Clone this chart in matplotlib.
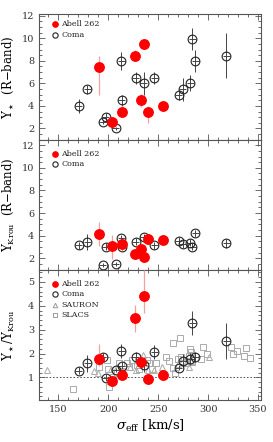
import matplotlib
matplotlib.use("Agg")
import matplotlib.pyplot as plt
from matplotlib.ticker import MultipleLocator

plt.rcParams['font.family'] = 'DejaVu Serif'
plt.rcParams['mathtext.fontset'] = 'dejavuserif'

# Abell 262 (red)
a262_sig = [190.5, 204, 213.4, 227, 235.4, 233, 239.7, 255]
a262_ups = [7.47, 2.59, 3.47, 8.45, 9.46, 4.49, 3.47, 3.98]
a262_ups_lo = [2.5, 0.3, 0.5, 0.5, 0.4, 0.6, 1.0, 0.3]
a262_ups_hi = [1.0, 0.3, 0.5, 0.5, 0.4, 0.6, 0.5, 0.3]
a262_krou = [4.12, 3.09, 3.24, 2.38, 2.14, 2.79, 3.70, 3.62]
a262_krou_lo = [1.0, 1.1, 0.5, 0.3, 0.2, 0.4, 0.3, 0.3]
a262_krou_hi = [1.1, 1.0, 0.5, 0.3, 0.2, 0.4, 0.3, 0.3]
a262_ratio = [1.79, 0.86, 1.10, 3.49, 4.40, 1.63, 0.94, 1.10]
a262_ratio_lo = [0.3, 0.2, 0.15, 0.6, 0.7, 0.2, 0.1, 0.1]
a262_ratio_hi = [0.6, 0.2, 0.15, 0.55, 1.1, 0.2, 0.1, 0.1]

# Coma (open circles)
coma_sig = [170.7, 179, 194.4, 197.7, 207.7, 213, 213.7, 227.4, 235.7, 246,
            270.7, 274.4, 282, 284, 287, 318]
coma_ups = [3.98, 5.46, 2.59, 2.98, 2.0, 7.98, 4.49, 6.47, 6.0, 6.47,
            4.96, 5.46, 6.0, 9.96, 7.98, 8.45]
coma_ups_err = [0.6, 0.4, 0.2, 0.4, 0.15, 0.8, 0.5, 0.5, 1.0, 0.5,
                0.4, 1.0, 0.7, 1.0, 1.0, 2.0]
coma_krou = [3.17, 3.47, 1.41, 3.02, 1.50, 3.76, 3.02, 3.47, 3.85, 3.17,
             3.56, 3.24, 3.38, 3.02, 4.20, 3.32]
coma_krou_err = [0.3, 0.7, 0.2, 0.3, 0.2, 0.3, 0.3, 0.3, 0.3, 0.3,
                 0.3, 0.3, 0.3, 0.3, 0.3, 0.4]
coma_ratio = [1.28, 1.59, 1.86, 0.98, 1.31, 2.11, 1.49, 1.86, 1.53, 2.06,
              1.40, 1.70, 1.77, 3.28, 1.86, 2.52]
coma_ratio_err = [0.15, 0.35, 0.15, 0.15, 0.1, 0.3, 0.15, 0.2, 0.3, 0.3,
                  0.1, 0.3, 0.25, 0.5, 0.2, 0.75]

# SAURON (triangles) and SLACS (squares)
sauron_sig = [138.5, 185.7, 190, 203, 209, 214, 222, 228, 235, 240, 246, 254,
              270, 278, 280.7, 283, 301]
sauron_ratio = [1.30, 1.26, 1.20, 1.35, 1.44, 1.30, 1.45, 1.30, 1.94, 1.30,
                1.30, 1.42, 1.55, 1.60, 1.42, 1.70, 1.84]
slacs_sig = [165, 190.7, 199.4, 198.4, 200.4, 208.4, 211, 218.4, 221, 223.4,
             229, 231, 238.4, 241, 247.7, 257.7, 261, 265, 265, 266.7,
             271.7, 270, 273.3, 278, 281.7, 283.4, 281, 284, 293.4, 295,
             299, 323.4, 325, 329.4, 336, 337.7, 341.7, 244, 214, 205]
slacs_ratio = [0.51, 1.42, 1.33, 1.72, 0.61, 1.19, 1.61, 1.61, 1.42, 1.72,
               1.50, 1.33, 1.72, 1.61, 1.61, 1.86, 1.70, 2.46, 1.38, 1.19,
               2.66, 1.77, 1.84, 1.70, 2.18, 2.07, 1.90, 1.65, 1.77, 2.28,
               2.0, 2.28, 2.0, 2.1, 1.88, 2.24, 1.81, 1.35, 1.25, 1.00]

red = '#ff0000'
pink = '#f4a0a0'
light = '#aaaaaa'
frame = '#555555'

fig = plt.figure(figsize=(2.73, 4.42), dpi=100)
gs = fig.add_gridspec(3, 1, height_ratios=[126, 130, 130], hspace=0,
                      left=0.144, right=0.956, top=0.968, bottom=0.095)
axes = [fig.add_subplot(gs[i]) for i in range(3)]


def plot_coma(ax, y, err):
    ax.errorbar(coma_sig, y, yerr=err, xerr=3.5, fmt='none', ecolor='#444444',
                elinewidth=0.7, capsize=0, zorder=2)
    ax.plot(coma_sig, y, 'o', ms=6.3, mfc='none', mec='#222222', mew=0.8,
            zorder=3)


def plot_a262(ax, y, lo, hi):
    ax.errorbar(a262_sig, y, yerr=[lo, hi], fmt='none', ecolor=pink,
                elinewidth=0.9, capsize=0, zorder=4)
    ax.plot(a262_sig, y, 'o', ms=6.8, color=red, mec=red, zorder=5)


def legend_rows(ax, rows, top_px, height_px):
    for i, (kind, label) in enumerate(rows):
        y = 1 - (top_px + i * 10.4) / height_px
        if kind == 'red':
            ax.plot([0.071], [y], 'o', ms=3.8, color=red,
                    transform=ax.transAxes)
        elif kind == 'coma':
            ax.plot([0.071], [y], 'o', ms=3.8, mfc='none', mec='#222222',
                    mew=0.8, transform=ax.transAxes)
        elif kind == 'tri':
            ax.plot([0.071], [y], '^', ms=3.3, mfc='none', mec='#999999',
                    mew=0.7, transform=ax.transAxes)
        else:
            ax.plot([0.071], [y], 's', ms=3.3, mfc='none', mec='#999999',
                    mew=0.7, transform=ax.transAxes)
        ax.text(0.098, y, label, transform=ax.transAxes, fontsize=5.8,
                va='center', ha='left', color='#222222')


# top panel
ax = axes[0]
plot_coma(ax, coma_ups, coma_ups_err)
plot_a262(ax, a262_ups, a262_ups_lo, a262_ups_hi)
ax.set_ylim(0.96, 12.15)
ax.yaxis.set_major_locator(MultipleLocator(2))
ax.yaxis.set_minor_locator(MultipleLocator(0.5))
ax.set_ylabel(r'$\Upsilon_\star$  (R$-$band)', fontsize=8.5)
legend_rows(ax, [('red', 'Abell 262'), ('coma', 'Coma')], 10, 126)

# middle panel
ax = axes[1]
plot_coma(ax, coma_krou, coma_krou_err)
plot_a262(ax, a262_krou, a262_krou_lo, a262_krou_hi)
ax.set_ylim(0.97, 12.45)
ax.yaxis.set_major_locator(MultipleLocator(2))
ax.yaxis.set_minor_locator(MultipleLocator(0.5))
ax.set_ylabel(r'$\Upsilon_{\rm Krou}$  (R$-$band)', fontsize=8.5)
legend_rows(ax, [('red', 'Abell 262'), ('coma', 'Coma')], 14, 130)

# bottom panel
ax = axes[2]
ax.axhline(1.0, color='#444444', ls=(0, (1.5, 2)), lw=0.7, zorder=1)
ax.plot(sauron_sig, sauron_ratio, '^', ms=3.8, mfc='none', mec=light,
        mew=0.7, zorder=1)
ax.plot(slacs_sig, slacs_ratio, 's', ms=3.8, mfc='none', mec=light, mew=0.7,
        zorder=1)
plot_coma(ax, coma_ratio, coma_ratio_err)
plot_a262(ax, a262_ratio, a262_ratio_lo, a262_ratio_hi)
ax.set_ylim(0.05, 5.5)
ax.yaxis.set_major_locator(MultipleLocator(1))
ax.yaxis.set_minor_locator(MultipleLocator(0.2))
ax.set_ylabel(r'$\Upsilon_\star/\Upsilon_{\rm Krou}$', fontsize=8.5)
ax.set_xlabel(r'$\sigma_{\rm eff}$ [km/s]', fontsize=9.5, labelpad=3)
legend_rows(ax, [('red', 'Abell 262'), ('coma', 'Coma'),
                 ('tri', 'SAURON'), ('sq', 'SLACS')], 14, 130)

for i, ax in enumerate(axes):
    ax.set_xlim(131, 353)
    ax.xaxis.set_major_locator(MultipleLocator(50))
    ax.xaxis.set_minor_locator(MultipleLocator(10))
    ax.tick_params(which='both', direction='in', top=True, right=True,
                   colors=frame, labelcolor='#333333', labelsize=7,
                   width=0.6)
    ax.tick_params(which='major', length=4)
    ax.tick_params(which='minor', length=2)
    for s in ax.spines.values():
        s.set_color(frame)
        s.set_linewidth(0.8)
    if i < 2:
        ax.tick_params(labelbottom=False)

fig.align_ylabels(axes)
fig.savefig('out.png', dpi=100)
